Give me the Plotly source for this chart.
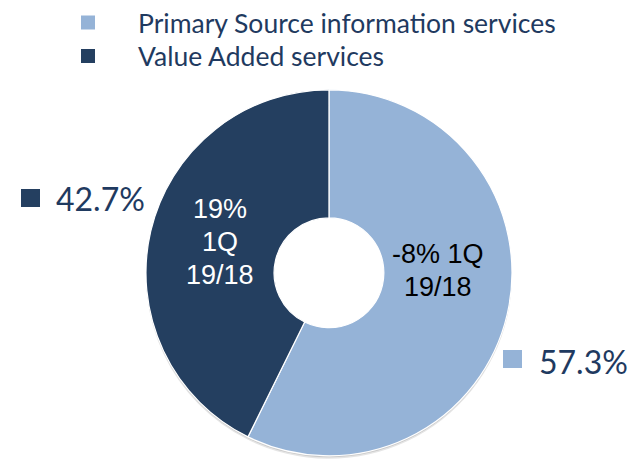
import plotly.graph_objects as go

# Revenue split by service line
categories = ["Primary Source information services", "Value Added services"]
shares = [57.3, 42.7]
growth_notes = [["-8% 1Q", "19/18"], ["19%", "1Q", "19/18"]]
colors = ["#95B3D7", "#243F60"]
note_colors = ["#000000", "#FFFFFF"]

W, H = 633, 459
TEXT_NAVY = "#1F3A60"
PIE_X = [0.2306, 0.8088]
PIE_Y = [0.0070, 0.8044]

fig = go.Figure()

# Soft drop shadow under the ring (two faint layers offset downward)
for dy, alpha in ((3.0, 0.10), (1.5, 0.12)):
    off = dy / H
    fig.add_trace(go.Pie(
        labels=categories,
        values=shares,
        hole=0.325,
        sort=False,
        direction="clockwise",
        marker=dict(colors=[f"rgba(0,0,0,{alpha})"] * 2, line=dict(width=0)),
        textinfo="none",
        hoverinfo="skip",
        showlegend=False,
        domain=dict(x=PIE_X, y=[max(0.0, PIE_Y[0] - off), PIE_Y[1] - off]),
    ))

fig.add_trace(go.Pie(
    labels=categories,
    values=shares,
    hole=0.30,
    sort=False,
    direction="clockwise",
    rotation=0,
    marker=dict(colors=colors, line=dict(color="#FFFFFF", width=1.2)),
    textinfo="none",
    hoverinfo="label+percent",
    showlegend=False,
    domain=dict(x=PIE_X, y=PIE_Y),
))

annotations = []
shapes = []

# Legend rows (square swatch + name)
legend_rows = [(22.5, 0), (56, 1)]
for yc, i in legend_rows:
    shapes.append(dict(type="rect", xref="paper", yref="paper",
                       x0=81 / W, x1=95 / W,
                       y0=1 - (yc + 7) / H, y1=1 - (yc - 7) / H,
                       fillcolor=colors[i], line=dict(width=0)))
    annotations.append(dict(xref="paper", yref="paper", x=136 / W, y=1 - yc / H,
                            xanchor="left", yanchor="middle", showarrow=False,
                            text=categories[i],
                            font=dict(family="Lato", size=26.5, color=TEXT_NAVY)))

# Share labels outside the ring
share_pos = {0: (503, 359, 537, 361), 1: (21, 198, 54, 199)}
for i, (sx, sy, tx, ty) in share_pos.items():
    shapes.append(dict(type="rect", xref="paper", yref="paper",
                       x0=sx / W, x1=(sx + 19) / W,
                       y0=1 - (sy + 9) / H, y1=1 - (sy - 9) / H,
                       fillcolor=colors[i], line=dict(width=0)))
    annotations.append(dict(xref="paper", yref="paper", x=tx / W, y=1 - ty / H,
                            xanchor="left", yanchor="middle", showarrow=False,
                            text=f"{shares[i]}%",
                            font=dict(family="Lato", size=32, color=TEXT_NAVY)))

# Year-over-year notes inside each slice, one line at a time
note_x = {0: 438, 1: 220}
note_lines_y = {0: [254, 287], 1: [209, 242, 275]}
for i in (0, 1):
    for line, y in zip(growth_notes[i], note_lines_y[i]):
        annotations.append(dict(xref="paper", yref="paper", x=note_x[i] / W, y=1 - y / H,
                                xanchor="center", yanchor="middle", showarrow=False,
                                text=line,
                                font=dict(family="Liberation Sans", size=27,
                                          color=note_colors[i])))

fig.update_layout(
    width=W, height=H,
    margin=dict(l=0, r=0, t=0, b=0),
    paper_bgcolor="#FFFFFF",
    plot_bgcolor="#FFFFFF",
    annotations=annotations,
    shapes=shapes,
)

fig.write_html("out.html")
